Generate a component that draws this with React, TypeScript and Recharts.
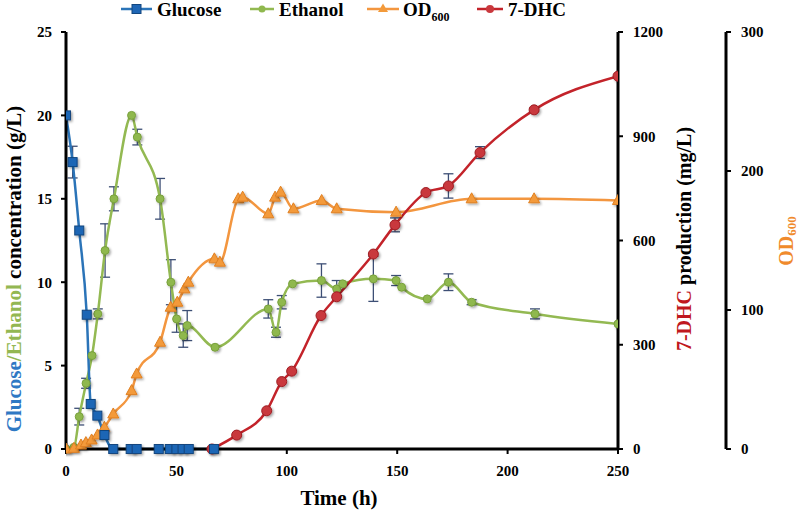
import React from "react";
import { LineChart, Line, XAxis, YAxis, ErrorBar } from "recharts";

// time points (h) and readings, per series
const glucoseTime = [0, 3, 6, 9.4, 11.2, 14.2, 17.4, 21.4, 29.3, 32, 42, 47, 50, 52.8, 55.6, 67];
const glucoseVal = [20, 17.2, 13.1, 8.05, 2.7, 2.0, 0.84, 0, 0, 0, 0, 0, 0, 0, 0, 0];
const glucoseErr = [0, 0.95, 0, 0, 0, 0, 0, 0, 0, 0, 0, 0, 0, 0, 0, 0];

const ethanolTime = [0, 3.6, 6, 9.1, 11.8, 14.4, 17.7, 21.7, 29.7, 32.3, 42.6, 47.5, 50.1, 53.1, 54.9, 67.5, 91.6, 95.1, 97.7, 102.6, 115.7, 122.6, 125.3, 139.2, 149.5, 152, 163.6, 173.2, 183.7, 212.4, 250];
const ethanolVal = [0, 0.1, 1.94, 3.94, 5.6, 8.1, 11.9, 15.0, 20.0, 18.7, 15.0, 10.0, 7.8, 6.8, 7.4, 6.1, 8.4, 7.0, 8.8, 9.9, 10.1, 9.6, 9.9, 10.2, 10.1, 9.7, 9.0, 10.0, 8.8, 8.1, 7.5];
const ethanolErr = [0, 0, 0.5, 0.3, 0, 0.3, 1.6, 0.72, 0, 0.47, 1.22, 1.35, 0.8, 0.7, 0.9, 0, 0.55, 0.3, 0.4, 0, 1.0, 0.5, 0, 1.35, 0.3, 0, 0, 0.5, 0.15, 0.3, 0];

const odTime = [0, 3.6, 6.8, 9, 11.6, 14.3, 17.4, 21.4, 29.7, 32, 42.6, 47.4, 50.4, 53.6, 55.4, 67.2, 69.7, 78, 80, 91.6, 94.7, 97.2, 103, 115.8, 122.6, 149.5, 183.7, 212, 250];
const odVal = [0, 0.5, 2.9, 4.6, 6.5, 10.1, 15.6, 25.2, 42, 54, 76.8, 102, 105.6, 115.2, 120, 136.8, 134.4, 180, 181.2, 169.2, 181.2, 184.8, 172.8, 178.8, 172.8, 170.4, 180, 180, 178.8];

const dhcTime = [66.1, 77.3, 90.9, 97.7, 102.2, 115.5, 122.6, 139.2, 149, 163, 173.2, 187.5, 212, 250];
const dhcVal = [0, 40, 110, 194, 224, 384, 438, 561, 645, 738, 757, 853, 976, 1073];
const dhcErr = [0, 0, 0, 0, 0, 0, 0, 0, 20, 0, 35, 17, 5, 0];

const timeTicks = [0, 50, 100, 150, 200, 250];
const leftTicks = [0, 5, 10, 15, 20, 25];
const dhcTicks = [0, 300, 600, 900, 1200];
const odTicks = [0, 100, 200, 300];

const glucoseData = glucoseTime.map((h, i) => ({ h, v: glucoseVal[i], e: glucoseErr[i] }));
const ethanolData = ethanolTime.map((h, i) => ({ h, v: ethanolVal[i], e: ethanolErr[i] }));
const odData = odTime.map((h, i) => ({ h, v: odVal[i] }));
const dhcData = dhcTime.map((h, i) => ({ h, v: dhcVal[i], e: dhcErr[i] }));

const BLUE = "#2b74b8";
const GREEN = "#93b952";
const ORANGE = "#f3963f";
const RED = "#c3232a";
const ERR = "#3d4f75";
const FONT = "'Liberation Serif', 'Times New Roman', serif";

const tick = { fontSize: 15, fontWeight: 700, fill: "#000", fontFamily: FONT };

function SquareDot(props: any) {
  const { cx, cy, index } = props;
  if (cx == null || cy == null) return <g key={`s${index}`} />;
  return (
    <rect key={`s${index}`} x={cx - 4.5} y={cy - 4.5} width={9} height={9}
      fill="#1f66b5" stroke="#12467f" strokeWidth={1} filter="url(#shadow)" />
  );
}

function DiamondDot(props: any) {
  const { cx, cy, index } = props;
  if (cx == null || cy == null) return <g key={`d${index}`} />;
  return (
    <circle key={`d${index}`} cx={cx} cy={cy} r={4} fill="#8fb84e" stroke="#78a03c"
      strokeWidth={1} filter="url(#shadow)" />
  );
}

function TriangleDot(props: any) {
  const { cx, cy, index } = props;
  if (cx == null || cy == null) return <g key={`t${index}`} />;
  return (
    <polygon key={`t${index}`} points={`${cx},${cy - 6} ${cx + 5.5},${cy + 4} ${cx - 5.5},${cy + 4}`}
      fill="#f39a3a" stroke="#e07f20" strokeWidth={1} filter="url(#shadow)" />
  );
}

function CircleDot(props: any) {
  const { cx, cy, index } = props;
  if (cx == null || cy == null) return <g key={`c${index}`} />;
  return (
    <circle key={`c${index}`} cx={cx} cy={cy} r={5} fill="#c9383d" stroke="#9e1c22"
      strokeWidth={1} filter="url(#shadow)" />
  );
}

function Overlay() {
  const legendText = { fontSize: 19, fontWeight: 700, fontFamily: FONT, fill: "#000" };
  const title = { fontSize: 20, fontWeight: 700, fontFamily: FONT, fill: "#000" };
  return (
    <svg width={797} height={513} style={{ position: "absolute", left: 0, top: 0, pointerEvents: "none" }}>
      {/* legend */}
      <line x1={121} x2={152} y1={9} y2={9} stroke={BLUE} strokeWidth={2.5} />
      <rect x={132} y={4.5} width={9} height={9} fill="#1f66b5" stroke="#12467f" />
      <text x={157} y={16} {...legendText}>Glucose</text>
      <line x1={250} x2={274} y1={9} y2={9} stroke={GREEN} strokeWidth={2.5} />
      <circle cx={262} cy={9} r={3.5} fill="#8fb84e" />
      <text x={279} y={16} {...legendText}>Ethanol</text>
      <line x1={367} x2={399} y1={9} y2={9} stroke={ORANGE} strokeWidth={2.5} />
      <polygon points="383,3.5 388,12 378,12" fill="#f39a3a" />
      <text x={403} y={16} {...legendText}>
        OD<tspan fontSize={12} dy={5}>600</tspan>
      </text>
      <line x1={477} x2={503} y1={9} y2={9} stroke={RED} strokeWidth={2.5} />
      <circle cx={490} cy={9} r={4} fill="#c9383d" />
      <text x={508} y={16} {...legendText}>7-DHC</text>

      {/* axis titles */}
      <text transform="translate(14,269) rotate(-90)" textAnchor="middle" dominantBaseline="central" {...title} fontSize={21}>
        <tspan fill="#2f78c4">Glucose</tspan>
        <tspan fill="#93b752">/Ethanol</tspan>
        <tspan> concentration (g/L)</tspan>
      </text>
      <text transform="translate(684,239) rotate(-90)" textAnchor="middle" dominantBaseline="central" {...title}>
        <tspan fill="#c0181e">7-DHC</tspan>
        <tspan> production (mg/L)</tspan>
      </text>
      <text transform="translate(786,241) rotate(-90)" textAnchor="middle" dominantBaseline="central" {...title} fill="#f08a2c">
        OD<tspan fontSize={13} dy={5}>600</tspan>
      </text>
      <text x={339} y={505} textAnchor="middle" {...title} fontSize={21}>Time (h)</text>
    </svg>
  );
}

export default function App() {
  return (
    <div style={{ position: "absolute", left: 0, top: 0, width: 797, height: 513, background: "#fff" }}>
      <LineChart width={797} height={513} margin={{ top: 32, right: 0, bottom: 0, left: 0 }}>
        <defs>
          <filter id="shadow" x="-50%" y="-50%" width="200%" height="200%">
            <feDropShadow dx={1.5} dy={1.5} stdDeviation={1} floodColor="#000" floodOpacity={0.35} />
          </filter>
        </defs>
        <XAxis dataKey="h" type="number" domain={[0, 250]} ticks={timeTicks} allowDataOverflow
          height={64} tick={tick} tickSize={5} tickMargin={11}
          axisLine={{ stroke: "#000", strokeWidth: 3 }} tickLine={{ stroke: "#000", strokeWidth: 2 }} />
        <YAxis yAxisId="left" orientation="left" domain={[0, 25]} ticks={leftTicks} width={66}
          tick={tick} tickSize={5} tickMargin={9}
          axisLine={{ stroke: "#000", strokeWidth: 3 }} tickLine={{ stroke: "#000", strokeWidth: 2 }} />
        <YAxis yAxisId="dhc" orientation="right" domain={[0, 1200]} ticks={dhcTicks} width={108}
          tick={tick} tickSize={5} tickMargin={10}
          axisLine={{ stroke: "#000", strokeWidth: 3 }} tickLine={{ stroke: "#000", strokeWidth: 2 }} />
        <YAxis yAxisId="od" orientation="right" domain={[0, 300]} ticks={odTicks} width={71}
          tick={tick} tickSize={5} tickMargin={10}
          axisLine={{ stroke: "#000", strokeWidth: 3 }} tickLine={{ stroke: "#000", strokeWidth: 2 }} />

        <Line yAxisId="left" data={ethanolData} dataKey="v" type="monotone" stroke={GREEN} strokeWidth={2.5}
          dot={DiamondDot} activeDot={false} isAnimationActive={false}>
          <ErrorBar dataKey="e" direction="y" width={5} stroke={ERR} strokeWidth={1.3} />
        </Line>
        <Line yAxisId="od" data={odData} dataKey="v" type="monotone" stroke={ORANGE} strokeWidth={2.5}
          dot={TriangleDot} activeDot={false} isAnimationActive={false} />
        <Line yAxisId="dhc" data={dhcData} dataKey="v" type="monotone" stroke={RED} strokeWidth={2.5}
          dot={CircleDot} activeDot={false} isAnimationActive={false}>
          <ErrorBar dataKey="e" direction="y" width={5} stroke={ERR} strokeWidth={1.3} />
        </Line>
        <Line yAxisId="left" data={glucoseData} dataKey="v" type="monotone" stroke={BLUE} strokeWidth={2.5}
          dot={SquareDot} activeDot={false} isAnimationActive={false}>
          <ErrorBar dataKey="e" direction="y" width={5} stroke={ERR} strokeWidth={1.3} />
        </Line>
      </LineChart>
      <Overlay />
    </div>
  );
}
